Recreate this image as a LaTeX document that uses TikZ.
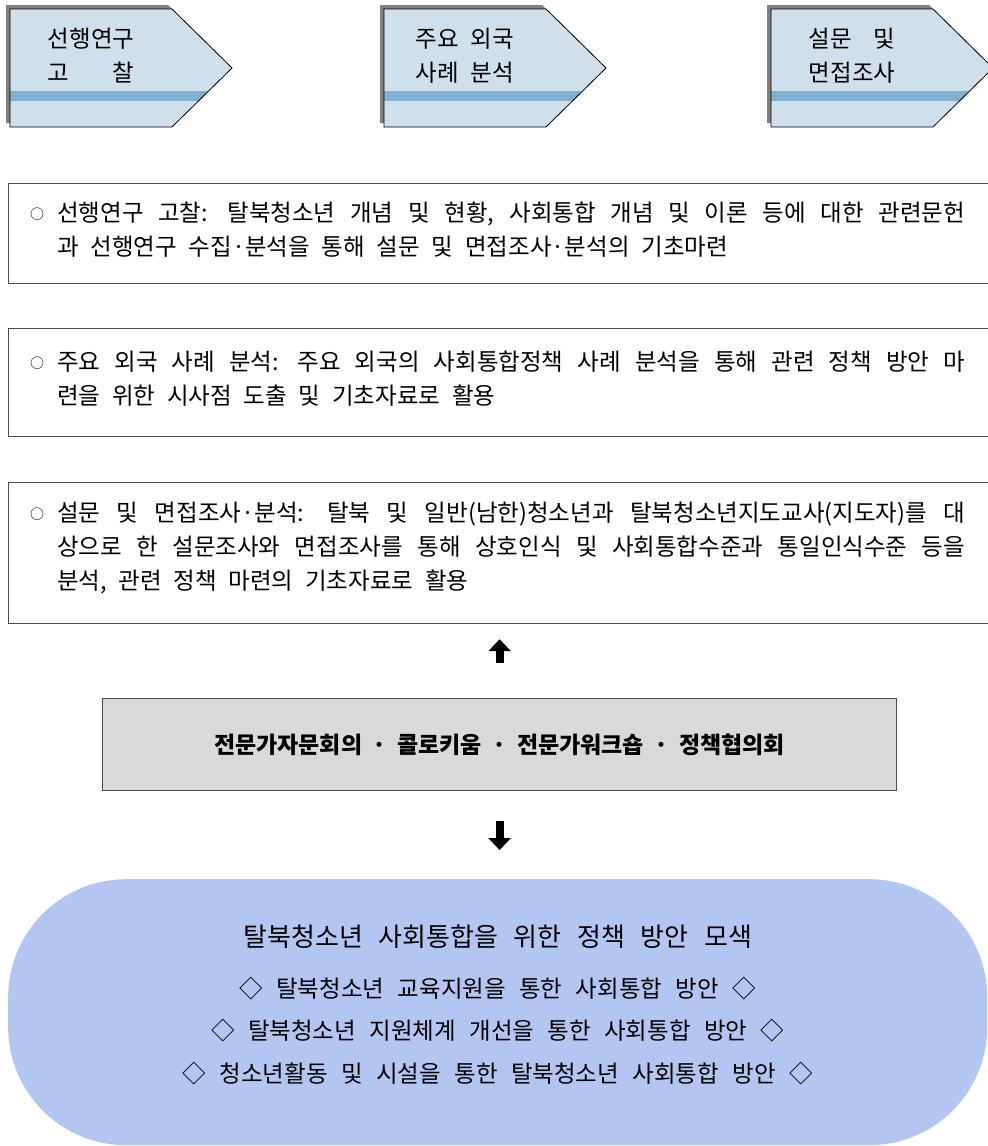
\documentclass[tikz,border=0pt]{standalone}
\usepackage{fontspec}
\usepackage{calc}
\setmainfont{Noto Sans CJK KR}
\usetikzlibrary{arrows.meta,positioning}
\definecolor{stepfill}{HTML}{CFE0EC}
\definecolor{stepstripe}{HTML}{80B0D0}
\definecolor{stepshadow}{HTML}{808080}
\definecolor{meetfill}{HTML}{D9D9D9}
\definecolor{goalfill}{HTML}{B3C6F2}
% fonts with the wide word spaces of the original
\newcommand{\stepfont}{\fontsize{23.5pt}{34pt}\selectfont\spaceskip=0.5em\relax}
\newcommand{\bodyfont}{\fontsize{23.5pt}{34pt}\selectfont\spaceskip=0.5em plus 0.8em minus 0.3em\relax}
\newcommand{\goalfont}{\fontsize{23.5pt}{30pt}\selectfont\spaceskip=0.57em\relax}
\newcommand{\titlefont}{\fontsize{26pt}{30pt}\selectfont\spaceskip=0.6em\relax}
\newcommand{\meetfont}{\fontsize{23pt}{30pt}\selectfont\bfseries\spaceskip=0.46em\relax}
\newcommand{\spreadto}[2]{\makebox[\widthof{#1}]{#2}}
% bullet in its own column, paragraph hanging beside it
\newcommand{\circitem}[1]{\makebox[27pt][l]{\raisebox{2pt}{\fontsize{14pt}{14pt}\selectfont ○}}\parbox[t]{908pt}{\bodyfont #1}}
\begin{document}
\begin{tikzpicture}[x=1pt,y=-1pt,
    framebox/.style={draw=black!70,line width=1.2pt,anchor=north west,inner sep=0pt},
    bodytext/.style={anchor=west,inner sep=0pt,font=\bodyfont},
    blockarrow/.style={line width=8pt,-{Triangle[width=22pt,length=12pt]}}]
  \clip (0,0) rectangle (988,1146);
  % Three step arrows along the top: shadow, body, stripe, outline, label
  \foreach \bx/\lineA/\lineB/\nm in {10/{선행연구}/{\spreadto{선행연구}{고\hfill 찰}}/litstep,
      384/{주요 외국}/{사례 분석}/casestep,
      771/{\spreadto{면접조사}{설문\hfill 및}}/{면접조사}/surveystep} {
    \fill[stepshadow] (\bx-4,5) -- ++(162,0) -- ++(60,59) -- ++(-60,59) -- ++(-162,0) -- cycle;
    \fill[stepfill] (\bx,9) -- ++(162,0) -- ++(60,59) -- ++(-60,59) -- ++(-162,0) -- cycle;
    \begin{scope}
      \clip (\bx,9) -- ++(162,0) -- ++(60,59) -- ++(-60,59) -- ++(-162,0) -- cycle;
      \fill[stepstripe] (\bx,91) rectangle ++(230,10);
    \end{scope}
    \draw[line width=0.8pt] (\bx,9) -- ++(162,0) -- ++(60,59) -- ++(-60,59) -- ++(-162,0) -- cycle;
    \node[align=center,inner sep=0pt,font=\stepfont] (\nm) at (\bx+81,56) {\lineA\\\lineB};
  }
  % Description of each step, in open frames running off the right edge
  \node[framebox,minimum width=992pt,minimum height=100pt] (litbox) at (8,183) {};
  \node[bodytext] (littext) at ([xshift=22pt,yshift=4pt]litbox.west)
    {\circitem{선행연구 고찰: 탈북청소년 개념 및 현황, 사회통합 개념 및 이론 등에 대한 관련문헌\linebreak 과 선행연구 수집·분석을 통해 설문 및 면접조사·분석의 기초마련}};
  \node[framebox,minimum width=992pt,minimum height=108pt] (casebox) at (8,328) {};
  \node[bodytext] (casetext) at ([xshift=22pt,yshift=4pt]casebox.west)
    {\circitem{주요 외국 사례 분석: 주요 외국의 사회통합정책 사례 분석을 통해 관련 정책 방안 마\linebreak 련을 위한 시사점 도출 및 기초자료로 활용}};
  \node[framebox,minimum width=992pt,minimum height=141pt] (surveybox) at (8,482) {};
  \node[bodytext] (surveytext) at ([xshift=22pt,yshift=5pt]surveybox.west)
    {\circitem{설문 및 면접조사·분석: 탈북 및 일반(남한)청소년과 탈북청소년지도교사(지도자)를 대\linebreak 상으로 한 설문조사와 면접조사를 통해 상호인식 및 사회통합수준과 통일인식수준 등을\linebreak 분석, 관련 정책 마련의 기초자료로 활용}};
  % Expert meetings feed back into the survey work
  \node[framebox,fill=meetfill,minimum width=794pt,minimum height=92pt,font=\meetfont] (meeting) at (102,698)
    {전문가자문회의 · 콜로키움 · 전문가워크숍 · 정책협의회};
  \draw[blockarrow,shorten <=35pt,shorten >=15pt] (meeting.north) -- (meeting.north |- surveybox.south);
  % Resulting policy directions
  \node[fill=goalfill,rounded corners=118pt,minimum width=979pt,minimum height=266pt,anchor=north west,inner sep=0pt] (goal) at (8,879) {};
  \draw[blockarrow,shorten <=30pt,shorten >=29pt] (meeting.south) -- (meeting.south |- goal.north);
  \node[font=\titlefont] (goaltitle) at ([yshift=76pt]goal.center) {탈북청소년 사회통합을 위한 정책 방안 모색};
  \node[font=\goalfont] (goalone) at ([yshift=24pt]goal.center) {◇ 탈북청소년 교육지원을 통한 사회통합 방안 ◇};
  \node[font=\goalfont] (goaltwo) at ([yshift=-18pt]goal.center) {◇ 탈북청소년 지원체계 개선을 통한 사회통합 방안 ◇};
  \node[font=\goalfont] (goalthree) at ([yshift=-61pt]goal.center) {◇ 청소년활동 및 시설을 통한 탈북청소년 사회통합 방안 ◇};
\end{tikzpicture}
\end{document}
